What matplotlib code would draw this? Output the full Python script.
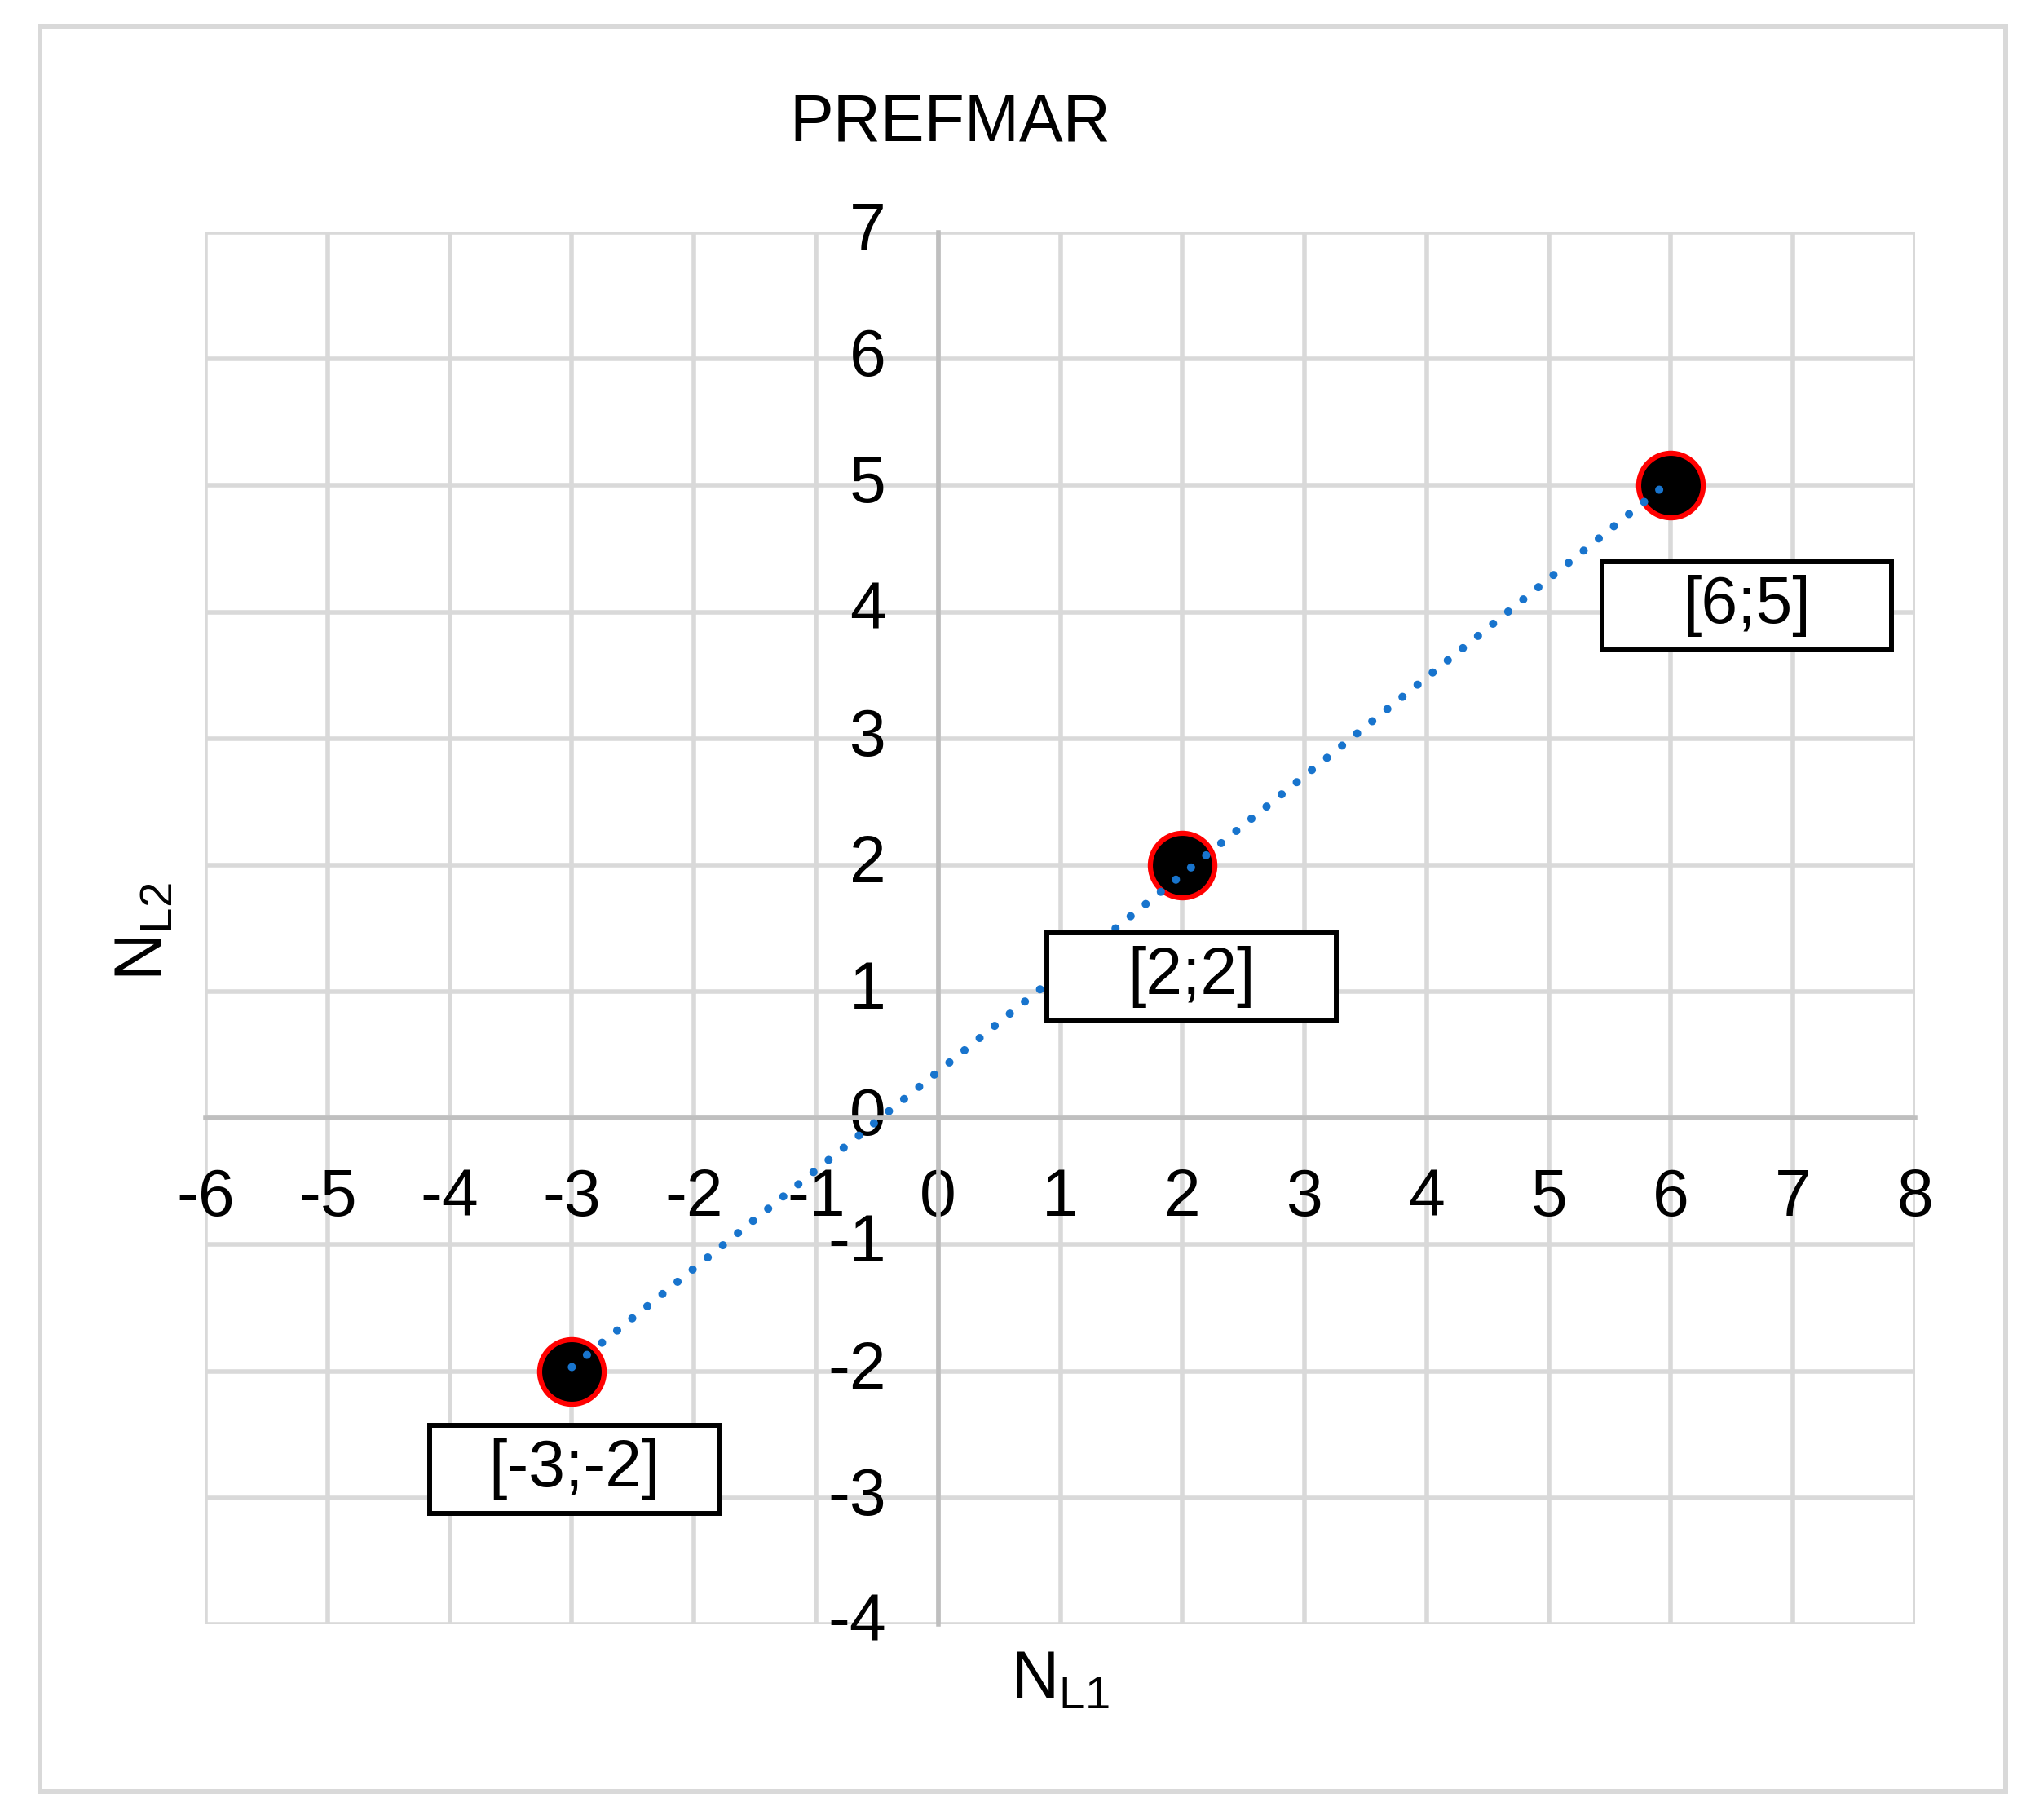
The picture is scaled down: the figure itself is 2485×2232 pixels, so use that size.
import numpy as np
import matplotlib
matplotlib.use("Agg")
import matplotlib.pyplot as plt
import matplotlib.transforms as mtransforms
from matplotlib.patches import Rectangle

# data
nl1 = [-3, 2, 6]
nl2 = [-2, 2, 5]
point_labels = ["[-3;-2]", "[2;2]", "[6;5]"]
x_ticks = list(range(-6, 9))
y_ticks = list(range(-4, 8))
title = "PREFMAR"

# label box offsets from each point, in pixels (fig dpi = 100)
label_offsets = [(3, -120), (11, -137), (93, -148)]
box_w, box_h = 355, 108
fs = 58

plt.rcParams["font.family"] = ["Liberation Sans", "DejaVu Sans"]
plt.rcParams["mathtext.fontset"] = "custom"
plt.rcParams["mathtext.rm"] = "Liberation Sans"
plt.rcParams["axes.unicode_minus"] = False

fig = plt.figure(figsize=(24.85, 22.32), dpi=100)
ax = fig.add_axes([252 / 2485, 1 - 1992 / 2232, (2349 - 252) / 2485, (1992 - 285) / 2232])

# outer chart frame
fig.patches.append(Rectangle((49 / 2485, 1 - 2197 / 2232), (2460 - 49) / 2485, (2197 - 32) / 2232,
                             transform=fig.transFigure, fill=False, edgecolor="#D9D9D9", linewidth=4.3))

ax.set_xlim(-6, 8)
ax.set_ylim(-4, 7)
ax.set_xticks(x_ticks)
ax.set_yticks(y_ticks)
ax.grid(True, color="#D9D9D9", linewidth=4.0, zorder=0)
ax.set_axisbelow(True)

for s in ["top", "right"]:
    ax.spines[s].set_visible(False)
for s in ["left", "bottom"]:
    ax.spines[s].set_position(("data", 0))
    ax.spines[s].set_color("#BFBFBF")
    ax.spines[s].set_linewidth(4.0)
ax.tick_params(axis="x", length=0, pad=44, labelsize=fs)
ax.tick_params(axis="y", length=0, pad=46, labelsize=fs)
for t in ax.get_yticklabels():
    t.set_verticalalignment("center")

# markers
ax.plot(nl1, nl2, linestyle="none", marker="o", markersize=57, markerfacecolor="black",
        markeredgecolor="#FF0000", markeredgewidth=4.5, zorder=3)

# linear trendline
k, b = np.polyfit(nl1, nl2, 1)
tx = np.array([min(nl1), max(nl1)])
ax.plot(tx, k * tx + b, color="#1874CD", linewidth=7.2, linestyle=(0, (0.01, 2.37)),
        dash_capstyle="round", zorder=4)

# data labels in fixed-size boxes
for x, y, lab, (dx, dy) in zip(nl1, nl2, point_labels, label_offsets):
    tr = mtransforms.ScaledTranslation(x, y, ax.transData)
    ax.add_patch(Rectangle((dx - box_w / 2, dy - box_h / 2), box_w, box_h, transform=tr,
                           facecolor="white", edgecolor="black", linewidth=4.3, zorder=5, clip_on=False))
    ax.annotate(lab, (x, y), xytext=(dx, dy), textcoords="offset pixels", ha="center", va="center",
                fontsize=fs, zorder=6)

fig.text(1165 / 2485, 1 - 152 / 2232, title, ha="center", va="center", fontsize=fs)
fig.text(1300 / 2485, 1 - 2062 / 2232, r"$\mathrm{N}_{\mathrm{L1}}$", ha="center", va="center", fontsize=fs)
fig.text(178 / 2485, 1 - 1143 / 2232, r"$\mathrm{N}_{\mathrm{L2}}$", ha="center", va="center",
         fontsize=fs, rotation=90)

fig.savefig("out.png", dpi=100)
